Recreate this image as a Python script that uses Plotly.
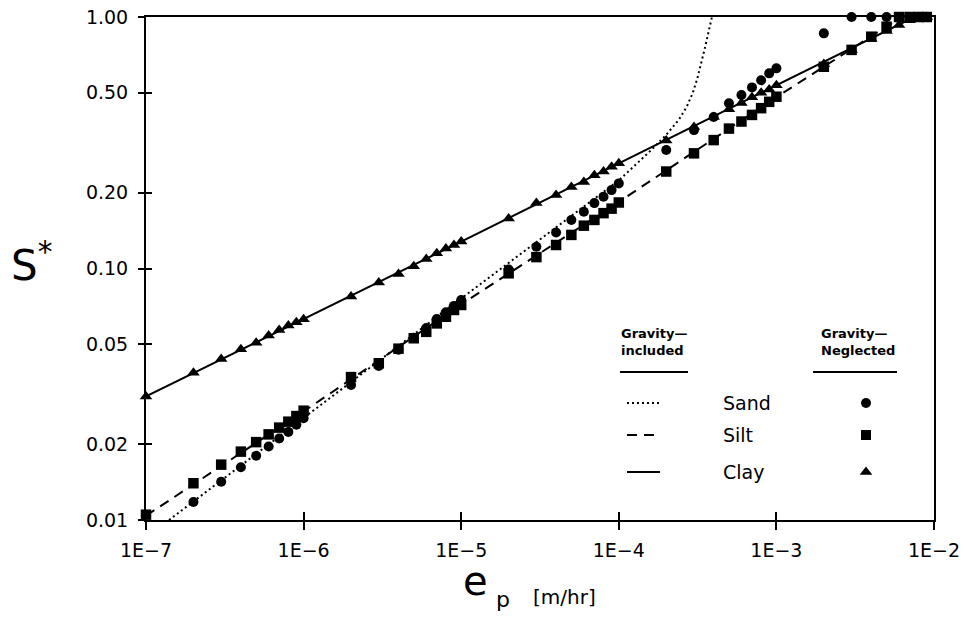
import plotly.graph_objects as go

# ---------------- data ----------------
# Gravity-neglected points
ep_sand = [2e-7, 3e-7, 4e-7, 5e-7, 6e-7, 7e-7, 8e-7, 9e-7, 1e-6,
           2e-6, 3e-6, 4e-6, 5e-6, 6e-6, 7e-6, 8e-6, 9e-6, 1e-5,
           2e-5, 3e-5, 4e-5, 5e-5, 6e-5, 7e-5, 8e-5, 9e-5, 1e-4,
           2e-4, 3e-4, 4e-4, 5e-4, 6e-4, 7e-4, 8e-4, 9e-4, 1e-3,
           2e-3, 3e-3, 4e-3, 5e-3, 6e-3, 7e-3, 8e-3, 9e-3, 1e-2]
s_sand = [0.0118, 0.0142, 0.0162, 0.0180, 0.0196, 0.0211, 0.0224, 0.0239, 0.0254,
          0.0344, 0.041, 0.0475, 0.053, 0.058, 0.063, 0.067, 0.071, 0.075,
          0.099, 0.122, 0.139, 0.156, 0.168, 0.182, 0.193, 0.205, 0.218,
          0.296, 0.355, 0.40, 0.454, 0.49, 0.525, 0.56, 0.597, 0.625,
          0.861, 1.0, 1.0, 1.0, 1.0, 1.0, 1.0, 1.0, 1.0]

ep_silt = [1e-7, 2e-7, 3e-7, 4e-7, 5e-7, 6e-7, 7e-7, 8e-7, 9e-7, 1e-6,
           2e-6, 3e-6, 4e-6, 5e-6, 6e-6, 7e-6, 8e-6, 9e-6, 1e-5,
           2e-5, 3e-5, 4e-5, 5e-5, 6e-5, 7e-5, 8e-5, 9e-5, 1e-4,
           2e-4, 3e-4, 4e-4, 5e-4, 6e-4, 7e-4, 8e-4, 9e-4, 1e-3,
           2e-3, 3e-3, 4e-3, 5e-3, 6e-3, 7e-3, 8e-3, 9e-3, 1e-2]
s_silt = [0.0105, 0.014, 0.0166, 0.0187, 0.0204, 0.0219, 0.0233, 0.0246, 0.0259, 0.0272,
          0.037, 0.042, 0.048, 0.0528, 0.056, 0.0605, 0.0643, 0.0684, 0.0716,
          0.0957, 0.111, 0.124, 0.136, 0.148, 0.156, 0.166, 0.173, 0.183,
          0.243, 0.287, 0.324, 0.36, 0.384, 0.408, 0.434, 0.46, 0.482,
          0.634, 0.74, 0.835, 0.915, 1.0, 1.0, 1.0, 1.0, 1.0]

ep_clay = [1e-7, 2e-7, 3e-7, 4e-7, 5e-7, 6e-7, 7e-7, 8e-7, 9e-7, 1e-6,
           2e-6, 3e-6, 4e-6, 5e-6, 6e-6, 7e-6, 8e-6, 9e-6, 1e-5,
           2e-5, 3e-5, 4e-5, 5e-5, 6e-5, 7e-5, 8e-5, 9e-5, 1e-4,
           2e-4, 3e-4, 4e-4, 5e-4, 6e-4, 7e-4, 8e-4, 9e-4, 1e-3,
           2e-3, 3e-3, 4e-3, 5e-3, 6e-3, 7e-3, 8e-3, 9e-3, 1e-2]
s_clay = [0.031, 0.0385, 0.0437, 0.0477, 0.0507, 0.0542, 0.0569, 0.0593, 0.0611, 0.0628,
          0.0773, 0.0879, 0.095, 0.102, 0.109, 0.115, 0.120, 0.124, 0.128,
          0.158, 0.182, 0.196, 0.211, 0.221, 0.235, 0.243, 0.254, 0.262,
          0.323, 0.365, 0.40, 0.43, 0.455, 0.48, 0.50, 0.515, 0.535,
          0.65, 0.74, 0.82, 0.88, 0.93, 0.97, 1.0, 1.0, 1.0]

# Gravity-included curves
ep_sand_gi = [1.4e-7, 1e-6, 1e-5, 1e-4, 1.25e-4, 1.6e-4, 2e-4, 2.4e-4, 2.7e-4,
              2.95e-4, 3.15e-4, 3.35e-4, 3.55e-4, 3.75e-4, 3.9e-4]
s_sand_gi = [0.0100, 0.0254, 0.076, 0.224, 0.255, 0.295, 0.34, 0.39, 0.44,
             0.50, 0.57, 0.66, 0.77, 0.90, 1.0]

ep_silt_gi = [1e-7, 1e-6, 1e-5, 1e-4, 1e-3, 6.2e-3]
s_silt_gi = [0.0104, 0.027, 0.072, 0.184, 0.48, 1.0]

ep_clay_gi = [1e-7, 1e-6, 1e-5, 1e-4, 1e-3, 7.5e-3]
s_clay_gi = [0.031, 0.0628, 0.128, 0.262, 0.535, 1.0]

x_tickvals = [1e-7, 1e-6, 1e-5, 1e-4, 1e-3, 1e-2]
x_ticktext = ["1E\u22127", "1E\u22126", "1E\u22125", "1E\u22124", "1E\u22123", "1E\u22122"]
y_tickvals = [0.01, 0.02, 0.05, 0.10, 0.20, 0.50, 1.00]
y_ticktext = ["0.01", "0.02", "0.05", "0.10", "0.20", "0.50", "1.00"]

soil_names = ["Sand", "Silt", "Clay"]

# ---------------- figure ----------------
FONT = "DejaVu Sans"
W, H = 967, 618
L, R, T, B = 146, 33, 17, 98
PW, PH = W - L - R, H - T - B


def px(X):
    return (X - L) / PW


def py(Y):
    return (H - B - Y) / PH


fig = go.Figure()

DOT = "2px,3px"
DASH = "10px,7px"

fig.add_trace(go.Scatter(x=ep_sand_gi, y=s_sand_gi, mode="lines",
                         line=dict(color="black", width=2, dash=DOT), showlegend=False))
fig.add_trace(go.Scatter(x=ep_silt_gi, y=s_silt_gi, mode="lines",
                         line=dict(color="black", width=2, dash=DASH), showlegend=False))
fig.add_trace(go.Scatter(x=ep_clay_gi, y=s_clay_gi, mode="lines",
                         line=dict(color="black", width=2), showlegend=False))

fig.add_trace(go.Scatter(x=ep_sand, y=s_sand, mode="markers", cliponaxis=False,
                         marker=dict(symbol="circle", size=10, color="black"), showlegend=False))
fig.add_trace(go.Scatter(x=ep_silt, y=s_silt, mode="markers", cliponaxis=False,
                         marker=dict(symbol="square", size=10.5, color="black"), showlegend=False))
fig.add_trace(go.Scatter(x=ep_clay, y=s_clay, mode="markers", cliponaxis=False,
                         marker=dict(symbol="triangle-up", size=11, color="black"), showlegend=False))

# empty trace to host the inner-tick overlay axes
fig.add_trace(go.Scatter(x=[], y=[], xaxis="x2", yaxis="y2", showlegend=False))

# legend keys drawn on a unit overlay axis
leg_rows_y = [py(403), py(435), py(472)]
key_x0, key_x1 = px(627), px(660)
for yy, d in zip(leg_rows_y, [DOT, DASH, "solid"]):
    fig.add_trace(go.Scatter(x=[key_x0, key_x1], y=[yy, yy], mode="lines", xaxis="x3", yaxis="y3",
                             line=dict(color="black", width=2, dash=d), showlegend=False))
mk_x = px(866)
for yy, sym, sz in zip(leg_rows_y, ["circle", "square", "triangle-up"], [10, 10, 11]):
    fig.add_trace(go.Scatter(x=[mk_x], y=[yy], mode="markers", xaxis="x3", yaxis="y3", cliponaxis=False,
                             marker=dict(symbol=sym, size=sz, color="black"), showlegend=False))

axis_common = dict(showgrid=False, zeroline=False, color="black", automargin=False)
fig.update_layout(
    width=W, height=H,
    margin=dict(l=L, r=R, t=T, b=B, autoexpand=False),
    paper_bgcolor="white", plot_bgcolor="white",
    font=dict(family=FONT, color="black"),
    xaxis=dict(type="log", range=[-7, -2], tickvals=x_tickvals, ticktext=x_ticktext,
               ticks="outside", ticklen=8, tickwidth=2, tickcolor="black",
               showline=True, linewidth=2, linecolor="black", mirror=True,
               tickfont=dict(family=FONT, size=19), ticklabelstandoff=4, **axis_common),
    yaxis=dict(type="log", range=[-2, 0], tickvals=y_tickvals, ticktext=y_ticktext,
               ticks="outside", ticklen=6, tickwidth=2, tickcolor="black",
               showline=True, linewidth=2, linecolor="black", mirror=True,
               tickfont=dict(family=FONT, size=19), ticklabelstandoff=6, **axis_common),
    xaxis2=dict(type="log", range=[-7, -2], tickvals=x_tickvals, overlaying="x", anchor="y",
                side="bottom", ticks="inside", ticklen=8, tickwidth=2, tickcolor="black",
                showticklabels=False, showline=False, **axis_common),
    yaxis2=dict(type="log", range=[-2, 0], tickvals=y_tickvals, overlaying="y", anchor="x",
                side="left", ticks="inside", ticklen=6, tickwidth=2, tickcolor="black",
                showticklabels=False, showline=False, **axis_common),
    xaxis3=dict(range=[0, 1], overlaying="x", anchor="y3", visible=False, fixedrange=True),
    yaxis3=dict(range=[0, 1], overlaying="y", anchor="x3", visible=False, fixedrange=True),
)

ann = []
# axis titles
ann.append(dict(x=px(31), y=py(262), xref="paper", yref="paper", showarrow=False,
                text="S<sup>*</sup>", font=dict(family=FONT, size=42), xanchor="center", yanchor="middle"))
ann.append(dict(x=px(490), y=py(606), xref="paper", yref="paper", showarrow=False,
                text="e", font=dict(family=FONT, size=40), xanchor="right", yanchor="bottom"))
ann.append(dict(x=px(494), y=py(614), xref="paper", yref="paper", showarrow=False,
                text="p", font=dict(family=FONT, size=22), xanchor="left", yanchor="bottom"))
ann.append(dict(x=px(531), y=py(597), xref="paper", yref="paper", showarrow=False,
                text="[m/hr]", font=dict(family=FONT, size=20), xanchor="left", yanchor="middle"))

# legend headers
ann.append(dict(x=px(654), y=py(342), xref="paper", yref="paper", showarrow=False,
                text="<b>Gravity\u2014</b><br><b>included</b>", align="left",
                font=dict(family=FONT, size=13), xanchor="center", yanchor="middle"))
ann.append(dict(x=px(858), y=py(342), xref="paper", yref="paper", showarrow=False,
                text="<b>Gravity\u2014</b><br><b>Neglected</b>", align="left",
                font=dict(family=FONT, size=13), xanchor="center", yanchor="middle"))
for name, Y in zip(soil_names, [403, 435, 472]):
    ann.append(dict(x=px(721), y=py(Y), xref="paper", yref="paper", showarrow=False,
                    text=name, font=dict(family=FONT, size=19), xanchor="left", yanchor="middle"))
fig.update_layout(annotations=ann)

shapes = [
    dict(type="line", xref="paper", yref="paper", x0=px(620), x1=px(688), y0=py(372), y1=py(372),
         line=dict(color="black", width=2)),
    dict(type="line", xref="paper", yref="paper", x0=px(813), x1=px(897), y0=py(372), y1=py(372),
         line=dict(color="black", width=2)),
]
fig.update_layout(shapes=shapes)

fig.write_html("out.html")
